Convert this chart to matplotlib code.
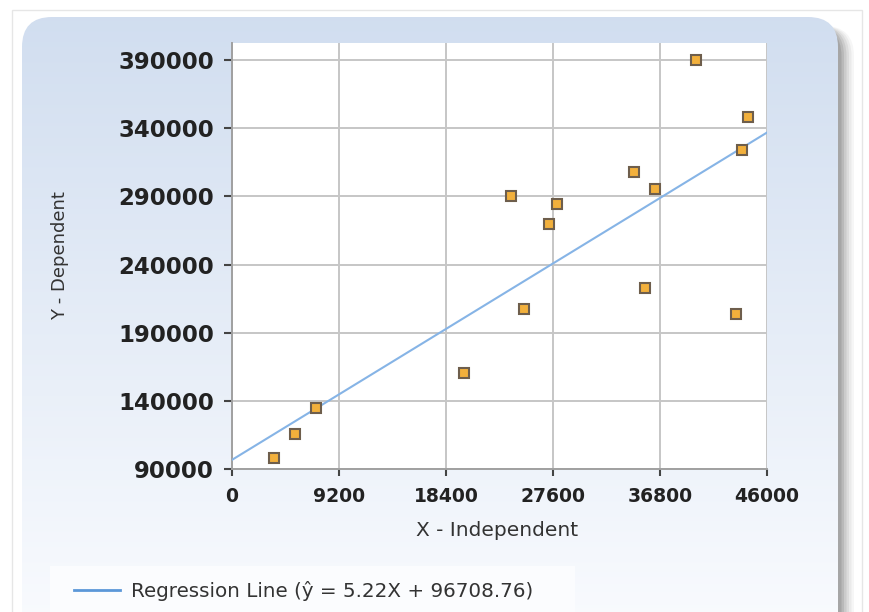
import numpy as np
import matplotlib.pyplot as plt
from matplotlib.patches import FancyBboxPatch, Rectangle
from matplotlib.lines import Line2D

# data
x_vals = [3600, 5400, 7200, 19950, 24000, 25100, 27250, 27950, 34550,
          35500, 36350, 39900, 43350, 43850, 44350]
y_vals = [98000, 115700, 134700, 160400, 290200, 207400, 269700, 284400, 307900,
          222800, 295400, 390000, 203700, 324000, 348200]
slope = 5.22
intercept = 96708.76
x_ticks = [0, 9200, 18400, 27600, 36800, 46000]
y_ticks = [90000, 140000, 190000, 240000, 290000, 340000, 390000]

W, H = 869, 612
fig = plt.figure(figsize=(W / 100, H / 100), dpi=100)
fig.patch.set_facecolor('white')

# background panel drawn in pixel coordinates
bg = fig.add_axes([0, 0, 1, 1], zorder=-5)
bg.axis('off')

# faint outer frame
bg.add_patch(Rectangle((12, 10), 850, 620, facecolor='white', edgecolor='#e6e6e6', lw=1, zorder=0.5))

# soft shadow on the right
for i, a in enumerate([0.05, 0.07, 0.09, 0.12, 0.15, 0.18]):
    off = 16 - i * 2.5
    bg.add_patch(FancyBboxPatch((22 + off, 26), 816, 640,
                                boxstyle="round,pad=0,rounding_size=30",
                                facecolor='#555555', edgecolor='none', alpha=a, zorder=1))

# gradient filled rounded panel
panel = FancyBboxPatch((22, 17), 816, 640, boxstyle="round,pad=0,rounding_size=30",
                       facecolor='none', edgecolor='none', zorder=2)
bg.add_patch(panel)
top_c = np.array([0.82, 0.87, 0.94])
bot_c = np.array([0.985, 0.99, 1.0])
t = np.linspace(0, 1, 256)[:, None, None]
grad = top_c * (1 - t) + bot_c * t
im = bg.imshow(grad, extent=(22, 838, 657, 17), aspect='auto', interpolation='bilinear', zorder=2)
im.set_clip_path(panel)

# legend backdrop
bg.add_patch(Rectangle((50, 566), 525, 60, facecolor='#fbfcfe', edgecolor='none', zorder=3))

bg.set_xlim(0, W)
bg.set_ylim(H, 0)

# main plot area
ax = fig.add_axes([232 / W, (H - 469) / H, 535 / W, 426 / H])
ax.set_facecolor('white')
ax.set_xlim(0, 46000)
ax.set_ylim(90000, 402500)

ax.set_xticks(x_ticks)
ax.set_yticks(y_ticks)
ax.set_xticklabels([str(v) for v in x_ticks])
ax.set_yticklabels([str(v) for v in y_ticks])
ax.grid(True, color='#c6c6c6', lw=1.4)
ax.set_axisbelow(True)
for s in ['top', 'right']:
    ax.spines[s].set_visible(False)
for s in ['left', 'bottom']:
    ax.spines[s].set_color('#a0a0a0')
    ax.spines[s].set_linewidth(1.4)

ax.tick_params(axis='y', length=6, width=1.5, color='#444444', pad=7,
               labelsize=16.5, labelcolor='#222222')
ax.tick_params(axis='x', length=5, width=1.5, color='#444444', pad=8,
               labelsize=13.5, labelcolor='#222222')
for lab in ax.get_yticklabels():
    lab.set_fontweight('bold')
for lab in ax.get_xticklabels():
    lab.set_fontweight('semibold')

# regression line from the stated equation
xl = np.array([0, 46000])
ax.plot(xl, slope * xl + intercept, color='#86b4e6', lw=1.5, zorder=3)

ax.plot(x_vals, y_vals, linestyle='none', marker='s', markersize=7.5,
        markerfacecolor='#f2b03c', markeredgecolor='#6e5e4c', markeredgewidth=1.5,
        zorder=4, clip_on=False)

ax.set_xlabel('X - Independent', fontsize=14.5, color='#333333')
ax.xaxis.set_label_coords(0.495, -0.122)
ax.set_ylabel('Y - Dependent', fontsize=13, color='#333333')
ax.yaxis.set_label_coords(-0.305, 0.5)

# legend at the bottom
handle = Line2D([], [], color='#5b97d8', lw=2)
leg = fig.legend([handle], ['Regression Line (\u0177 = 5.22X + 96708.76)'],
                 loc='center left', bbox_to_anchor=(56 / W, (H - 591) / H),
                 frameon=False, fontsize=14.3, handlelength=2.3, handletextpad=0.6,
                 labelcolor='#333333')

fig.savefig('out.png', dpi=100)
